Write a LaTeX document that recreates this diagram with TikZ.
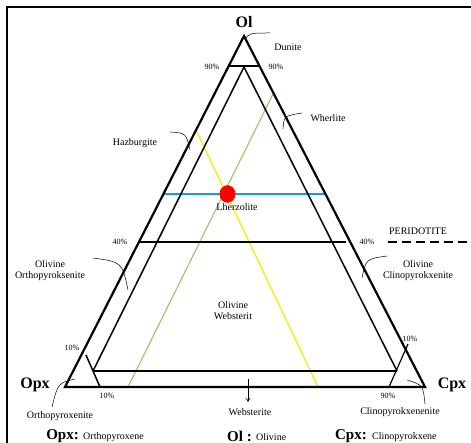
\documentclass[tikz,border=0pt]{standalone}
\usepackage{fontspec}
\setmainfont{Liberation Serif}
\usetikzlibrary{arrows.meta}
\definecolor{lblue}{HTML}{15A0D8}
\definecolor{lyellow}{HTML}{F0F018}
\definecolor{lgreen}{HTML}{94C864}
\begin{document}
\begin{tikzpicture}[x=1pt,y=-1pt,
  lbl/.style={font=\fontsize{10}{11}\selectfont, inner sep=0pt, align=center},
  pct/.style={font=\fontsize{8}{9}\selectfont, inner sep=0pt},
  big/.style={font=\fontsize{16}{17}\selectfont\bfseries, inner sep=0pt},
  leg/.style={font=\fontsize{15}{16}\selectfont\bfseries, inner sep=0pt},
  leader/.style={draw, line width=0.5pt},
  outer/.style={line width=2.2pt, line join=miter},
  inner/.style={line width=1.5pt},
]
\useasboundingbox (0,0) rectangle (471,443);
\fill[white] (0,0) rectangle (471,443);
% frame
\draw[line width=1.3pt] (7,443) -- (7,7) -- (471,7);

% corners
\coordinate (A) at (244,36);
\coordinate (L) at (65,387);
\coordinate (R) at (425,387);
\coordinate (IA) at (244,67);
\coordinate (IL) at (93,371);
\coordinate (IR) at (397,371);

% coloured lines
\coordinate (bl) at (163,194);
\coordinate (br) at (325.5,194);
\draw[lblue, line width=1.4pt] (bl) -- (br);
\coordinate (yt) at (196,130);
\coordinate (yb) at (318,387);
\draw[lyellow, line width=1.4pt] (yt) -- (yb);
\coordinate (gt) at (274,92);
\coordinate (gb) at (128,387);
\draw[lgreen, line width=1.1pt] (gt) -- (gb);

% outer triangle
\draw[outer] (L) -- (A) -- (R) -- cycle;
% inner triangle
\draw[inner] (IL) -- (IA) -- (IR);
\draw[line width=1.2pt] (IL) -- (IR);
% 90% line
\coordinate (n1) at (228.5,66);
\coordinate (n2) at (259.5,66);
\draw[inner] (n1) -- (n2);
% 40% line
\coordinate (f1) at (138,242);
\coordinate (f2) at (346,242);
\draw[line width=1.1pt] (f1) -- (f2);
% 10% lines
\coordinate (t1) at (86,355);
\coordinate (t2) at (100,387);
\draw[line width=1.5pt] (t1) -- (t2);
\coordinate (t3) at (389,387);
\coordinate (t4) at (408,344);
\draw[line width=1.2pt] (t3) -- (t4);

% peridotite dashed
\coordinate (p1) at (388,242);
\coordinate (p2) at (471,242);
\draw[line width=1.3pt, dash pattern=on 9pt off 5pt] (p1) -- (p2);
\node[lbl] (perid) at (418,231) {PERIDOTITE};

% red dot
\fill[red] (227.5,194) ellipse [x radius=8, y radius=8.8];

% labels
\node[big] (ol) at (244,22) {Ol};
\node[big] (opx) at (35,385) {Opx};
\node[big] (cpx) at (452,385) {Cpx};
\node[lbl] (dun) at (288,47) {Dunite};
\node[pct] (p90l) at (212,67) {90\%};
\node[pct] (p90r) at (276,67) {90\%};
\node[lbl] (wher) at (328,118) {Wherlite};
\node[lbl] (haz) at (135,143) {Hazburgite};
\node[lbl] (lher) at (237,207) {Lherzolite};
\node[pct] (p40l) at (120,242) {40\%};
\node[pct] (p40r) at (367,242) {40\%};
\node[lbl] (oo) at (50,271) {Olivine\\Orthopyroksenite};
\node[lbl] (oc) at (418,271) {Olivine\\Clinopyrokxenite};
\node[lbl] (ow) at (233,311) {Olivine\\Websterit};
\node[pct] (p10l) at (72,348) {10\%};
\node[pct] (p10r) at (410,339) {10\%};
\node[pct] (p10b) at (107,396) {10\%};
\node[pct] (p90b) at (388,396) {90\%};
\node[lbl] (web) at (250,412) {Websterite};
\node[lbl] (orth) at (60,416) {Orthopyroxenite};
\node[lbl] (clin) at (400,412) {Clinopyrokxenenite};

% legend
\node[leg, anchor=east] (lopx) at (79,436) {Opx:};
\node[lbl, anchor=west] (lopxt) at (83,437) {Orthopyroxene};
\node[leg, anchor=east] (lol) at (252,436) {Ol :};
\node[lbl, anchor=west] (lolt) at (256,437) {Olivine};
\node[leg, anchor=east] (lcpx) at (367,436) {Cpx:};
\node[lbl, anchor=west] (lcpxt) at (372,437) {Clinopyrokxene};

% leaders
\draw[leader] (245,39) .. controls (250,33) .. (270,33);
\draw[leader] (283,129) .. controls (284,116) .. (302,113);
\draw[leader] (170,132) .. controls (186,133) .. (190,150);
\draw[leader] (93,258) .. controls (122,262) .. (128,290);
\draw[leader] (387,256) .. controls (366,259) .. (362,278);
\draw[leader] (75,379) .. controls (58,383) .. (52,407);
\draw[leader] (407,380) .. controls (423,385) .. (425,404);
% arrow
\coordinate (a1) at (248,379);
\coordinate (a2) at (248,402);
\draw[line width=0.6pt, -{To[length=4pt,width=5pt]}] (a1) -- (a2);
\end{tikzpicture}
\end{document}
